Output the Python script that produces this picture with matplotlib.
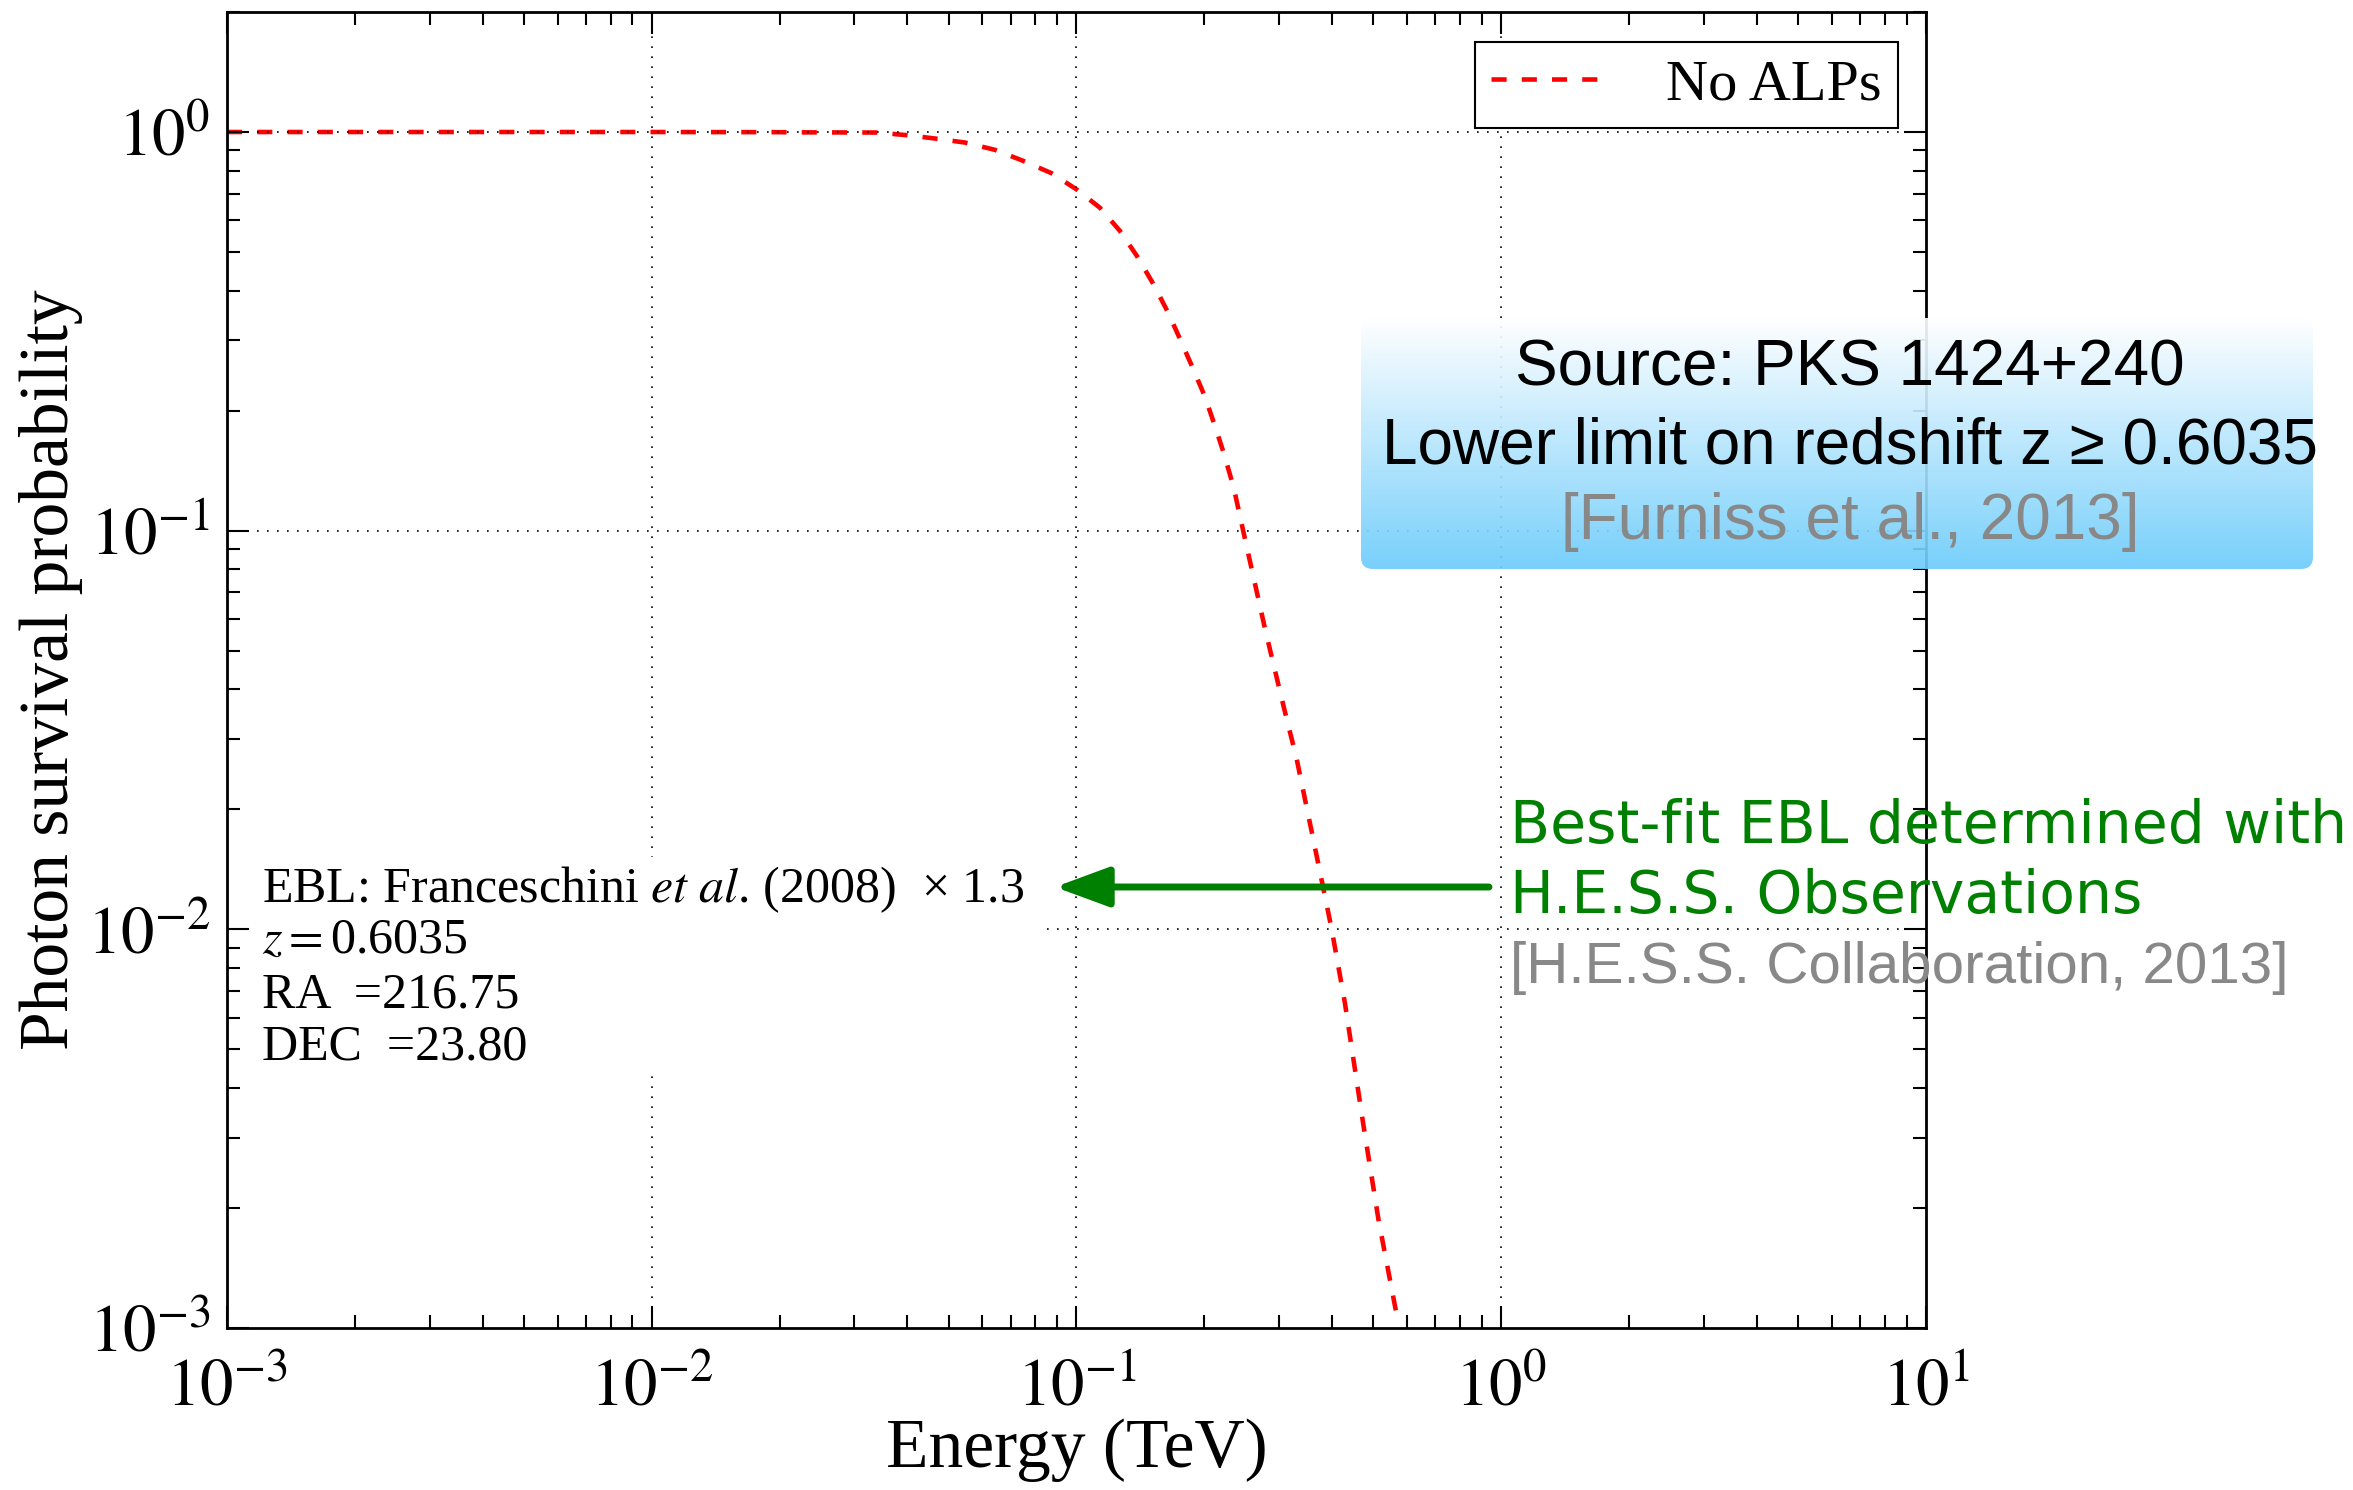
import numpy as np
import matplotlib
matplotlib.use("Agg")
import matplotlib.pyplot as plt
from matplotlib.patches import Rectangle, FancyBboxPatch, FancyArrowPatch
from matplotlib.ticker import FixedLocator, LogLocator, NullFormatter

# ---------------- data ----------------
energy_tev = [0.001, 0.003, 0.01, 0.02, 0.0232, 0.0339, 0.0398, 0.0465, 0.0546,
              0.0643, 0.075, 0.0874, 0.1, 0.1135, 0.1265, 0.1387, 0.1518, 0.1644,
              0.1754, 0.1884, 0.2009, 0.2118, 0.222, 0.2346, 0.247, 0.278, 0.307,
              0.330, 0.358, 0.381, 0.399, 0.4285, 0.473, 0.514, 0.573]
survival_prob = [1.0, 1.0, 1.0, 0.999, 0.998, 0.997, 0.982, 0.963, 0.941,
                 0.902, 0.846, 0.788, 0.718, 0.646, 0.565, 0.489, 0.415, 0.352,
                 0.302, 0.254, 0.216, 0.183, 0.157, 0.128, 0.0996, 0.0566, 0.0364,
                 0.0267, 0.01754, 0.0127, 0.00998, 0.00653, 0.00326, 0.00187, 0.00102]
series_label = "No ALPs"

x_ticks = [1e-3, 1e-2, 1e-1, 1e0, 1e1]
x_tick_labels = [r"$10^{-3}$", r"$10^{-2}$", r"$10^{-1}$", r"$10^{0}$", r"$10^{1}$"]
y_ticks = [1e-3, 1e-2, 1e-1, 1e0]
y_tick_labels = [r"$10^{-3}$", r"$10^{-2}$", r"$10^{-1}$", r"$10^{0}$"]
grid_x = [1e-2, 1e-1, 1e0]
grid_y = [1e-2, 1e-1, 1e0]

info_lines = [r"EBL: Franceschini $\it{et\ al}$. (2008)  × 1.3",
              r"$z=$0.6035",
              "RA  =216.75",
              "DEC  =23.80"]
box_lines = ["Source: PKS 1424+240",
             "Lower limit on redshift z ≥ 0.6035",
             "[Furniss et al., 2013]"]
green_lines = ["Best-fit EBL determined with", "H.E.S.S. Observations"]
gray_ref = "[H.E.S.S. Collaboration, 2013]"

# ---------------- figure ----------------
plt.rcParams["font.family"] = ["Liberation Serif", "DejaVu Serif"]
plt.rcParams["mathtext.fontset"] = "stix"

W, H = 2353, 1490
fig = plt.figure(figsize=(W / 100, H / 100), dpi=100)
L, R, T, B = 227, 1926, 12, 1328
ax = fig.add_axes([L / W, 1 - B / H, (R - L) / W, (B - T) / H])
ax.set_xscale("log")
ax.set_yscale("log")
ax.set_xlim(1e-3, 10)
ax.set_ylim(1e-3, 2.0)

ax.plot(energy_tev, survival_prob, color="red", lw=3.3, dashes=(3.3, 3.3),
        label=series_label, zorder=1)

for gx in grid_x:
    ax.axvline(gx, color="black", lw=1.2, linestyle=(0, (1, 5)), zorder=1.5)
for gy in grid_y:
    ax.axhline(gy, color="black", lw=1.2, linestyle=(0, (1, 5)), zorder=1.5)

# white background behind the info text
ax.add_patch(Rectangle((0, 0.1953), 0.479, 0.358 - 0.1953, transform=ax.transAxes,
                       facecolor="white", edgecolor="none", zorder=1.8))

ax.set_axisbelow(False)
ax.xaxis.set_major_locator(FixedLocator(x_ticks))
ax.set_xticklabels(x_tick_labels)
ax.yaxis.set_major_locator(FixedLocator(y_ticks))
ax.set_yticklabels(y_tick_labels)
ax.xaxis.set_minor_locator(LogLocator(base=10, subs=np.arange(2, 10), numticks=50))
ax.yaxis.set_minor_locator(LogLocator(base=10, subs=np.arange(2, 10), numticks=50))
ax.xaxis.set_minor_formatter(NullFormatter())
ax.yaxis.set_minor_formatter(NullFormatter())
ax.tick_params(which="both", direction="in", top=True, right=True, width=1.5,
               labelsize=48)
ax.tick_params(which="major", length=16)
ax.tick_params(which="minor", length=9.5)
ax.tick_params(axis="x", which="major", pad=22)
ax.tick_params(axis="y", which="major", pad=12)
for sp in ax.spines.values():
    sp.set_linewidth(2)

ax.set_xlabel("Energy (TeV)", fontsize=50)
ax.xaxis.set_label_coords(0.5, -0.0684)
ax.set_ylabel("Photon survival probability", fontsize=50)
ax.yaxis.set_label_coords(-0.085, 0.5)

leg = ax.legend(loc="upper right", bbox_to_anchor=(0.9835, 0.9772), borderaxespad=0,
                fontsize=42, frameon=True, fancybox=False, edgecolor="black",
                framealpha=1, borderpad=0.28, handlelength=1.85, handletextpad=1.15)
leg.get_frame().set_linewidth(1.5)
leg.set_zorder(5)

# info text block
info_base = [902, 953, 1007, 1060]
for s, yb in zip(info_lines, info_base):
    ax.text(0.0206, (B - yb) / (B - T), s, transform=ax.transAxes, fontsize=36,
            ha="left", va="baseline", zorder=3)

# ---------------- blue gradient box ----------------
bx0, by0, bx1, by1 = 1361, 318, 2313, 569
bax = fig.add_axes([bx0 / W, 1 - by1 / H, (bx1 - bx0) / W, (by1 - by0) / H], zorder=2)
bax.set_axis_off()
bw, bh = bx1 - bx0, by1 - by0
t = np.linspace(0, 1, 256)[:, None]
top_c = np.array([1.0, 1.0, 1.0])
bot_c = np.array([108, 204, 251]) / 255.0
img = (top_c + (bot_c - top_c) * t).reshape(256, 1, 3)
im = bax.imshow(img, extent=(0, bw, 0, bh), origin="upper", aspect="auto",
                alpha=0.92, interpolation="bilinear")
bax.set_xlim(0, bw)
bax.set_ylim(0, bh)
clip = FancyBboxPatch((0, 0), bw, bh, boxstyle="round,pad=0,rounding_size=12",
                      transform=bax.transData, facecolor="none", edgecolor="none")
bax.add_patch(clip)
im.set_clip_path(clip)

box_base = [386, 463, 539]
box_cols = ["black", "black", "#888888"]
for s, yb, c in zip(box_lines, box_base, box_cols):
    fig.text(1850 / W, 1 - yb / H, s, ha="center", va="baseline", fontsize=46,
             family="Liberation Sans", color=c, zorder=4)

# ---------------- green annotation ----------------
green_base = [843, 913]
for s, yb in zip(green_lines, green_base):
    fig.text(1510 / W, 1 - yb / H, s, ha="left", va="baseline", fontsize=42,
             family="DejaVu Sans", color="green", zorder=4)
fig.text(1510 / W, 1 - 983 / H, gray_ref, ha="left", va="baseline", fontsize=42,
         family="Liberation Sans", color="#888888", zorder=4)

arrow = FancyArrowPatch(posA=(1489 / W, 1 - 887 / H), posB=(1055 / W, 1 - 887 / H),
                        transform=fig.transFigure,
                        arrowstyle="-|>,head_length=0.95,head_width=0.35",
                        mutation_scale=35, color="green", lw=5,
                        shrinkA=0, shrinkB=0, zorder=4)
fig.add_artist(arrow)

fig.savefig("out.png", dpi=100)
